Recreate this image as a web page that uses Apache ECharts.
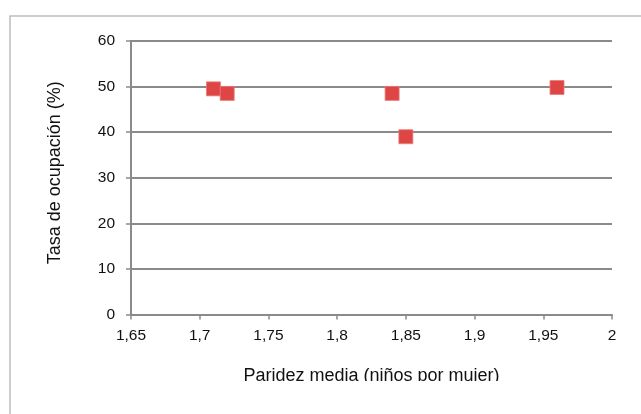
<!DOCTYPE html>
<html>
<head>
<meta charset="utf-8">
<script src="https://cdn.jsdelivr.net/npm/echarts@6/dist/echarts.min.js"></script>
<style>
  html, body { margin: 0; padding: 0; background: #fff; }
  #chart { width: 641px; height: 414px; }
</style>
</head>
<body>
<div id="chart"></div>
<script>
// Paridez media vs. tasa de ocupación
const paridez = [1.71, 1.72, 1.84, 1.85, 1.96];
const ocupacion = [49.5, 48.5, 48.5, 39, 49.8];
const xTitle = 'Paridez media (niños por mujer)';
const yTitle = 'Tasa de ocupación (%)';

const points = paridez.map((x, i) => [x, ocupacion[i]]);
const comma = v => String(Number(v.toFixed(2))).replace('.', ',');
const font = 'Liberation Sans, Arial, sans-serif';

const chart = echarts.init(document.getElementById('chart'));
chart.setOption({
  animation: false,
  grid: { left: 131, right: 29, top: 41, bottom: 99.5 },
  graphic: [
    {
      type: 'rect', z: -1, silent: true,
      shape: { x: 10, y: 16, width: 700, height: 500 },
      style: { fill: '#fff', stroke: '#bdbdbd', lineWidth: 1.5 }
    },
    {
      // lower part of the sheet is blank below the axis title line
      type: 'rect', z: 100, silent: true,
      shape: { x: 12, y: 381, width: 640, height: 40 },
      style: { fill: '#fff' }
    }
  ],
  xAxis: {
    type: 'value', min: 1.65, max: 2, interval: 0.05,
    name: xTitle, nameLocation: 'middle', nameGap: 53,
    nameTextStyle: { fontFamily: font, fontSize: 18, color: '#111' },
    axisLine: { show: true, lineStyle: { color: '#8a8a8a', width: 2 } },
    axisTick: { show: true, length: 5, lineStyle: { color: '#8a8a8a', width: 1.5 } },
    splitLine: { show: false },
    axisLabel: { fontFamily: font, fontSize: 15.5, color: '#111', margin: 13, formatter: comma }
  },
  yAxis: {
    type: 'value', min: 0, max: 60, interval: 10,
    name: yTitle, nameLocation: 'middle', nameGap: 67, nameRotate: 90,
    nameTextStyle: { fontFamily: font, fontSize: 18, color: '#111', padding: [0, 0, 0, 10] },
    axisLine: { show: true, lineStyle: { color: '#8a8a8a', width: 2 } },
    axisTick: { show: true, length: 5, lineStyle: { color: '#8a8a8a', width: 1.5 } },
    splitLine: { show: true, lineStyle: { color: '#8a8a8a', width: 2 } },
    axisLabel: { fontFamily: font, fontSize: 15.5, color: '#111', margin: 16 }
  },
  series: [{
    type: 'scatter',
    data: points,
    symbol: 'rect',
    symbolSize: 14,
    itemStyle: { color: '#de4646', borderColor: '#ea7a7a', borderWidth: 0.8, opacity: 1 }
  }]
});
</script>
</body>
</html>
